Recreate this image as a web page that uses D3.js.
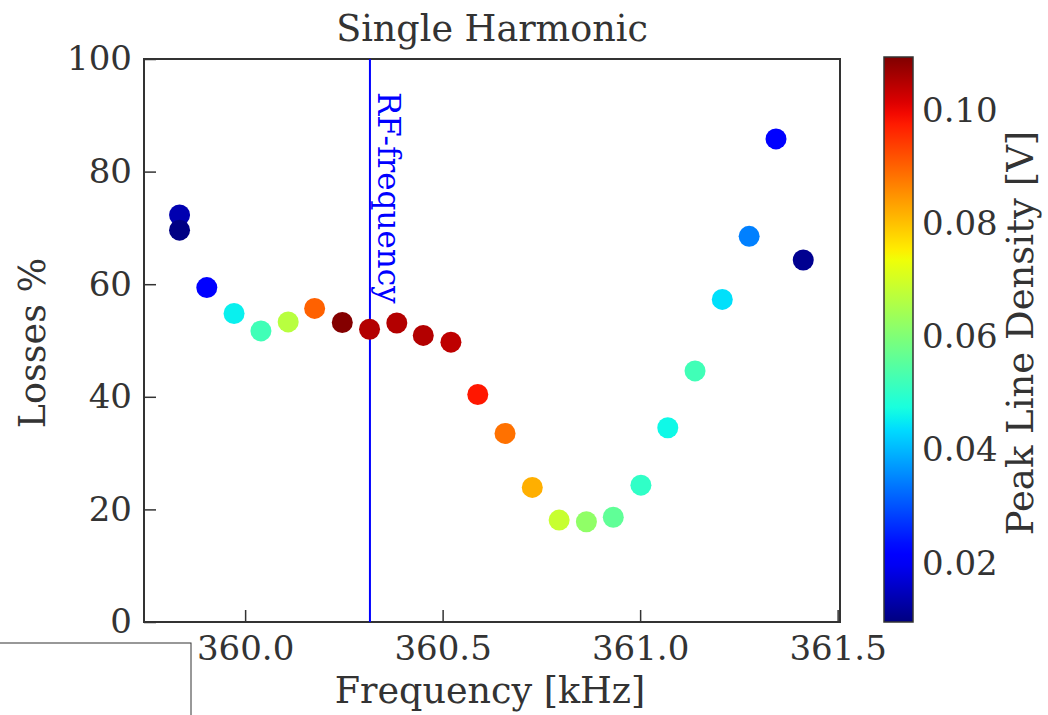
<!DOCTYPE html>
<html>
<head>
<meta charset="utf-8">
<script src="https://cdn.jsdelivr.net/npm/d3@7"></script>
<style>
  body { margin: 0; background: #fff; }
  text { font-family: "DejaVu Serif", serif; fill: #333; }
</style>
</head>
<body>
<svg id="chart" width="1048" height="715"></svg>
<script>
// data
const freq = [359.834, 359.834, 359.903, 359.972, 360.040, 360.109, 360.176, 360.246,
  360.315, 360.384, 360.451, 360.521, 360.589, 360.658, 360.727, 360.795, 360.864,
  360.932, 361.002, 361.070, 361.139, 361.208, 361.276, 361.344, 361.413];
const losses = [72.3, 69.6, 59.4, 54.8, 51.7, 53.3, 55.7, 53.2, 52.0, 53.1, 50.9, 49.7,
  40.4, 33.5, 23.9, 18.1, 17.8, 18.6, 24.3, 34.5, 44.6, 57.3, 68.5, 85.8, 64.3];
const density = [0.0138, 0.0100, 0.0215, 0.0456, 0.0523, 0.0668, 0.0902, 0.1090,
  0.1050, 0.1050, 0.1050, 0.1040, 0.0980, 0.0885, 0.0819, 0.0687, 0.0620, 0.0562,
  0.0503, 0.0464, 0.0523, 0.0440, 0.0346, 0.0214, 0.0110];
const rfFreq = 360.316;
const xTicks = [360.0, 360.5, 361.0, 361.5];
const yTicks = [0, 20, 40, 60, 80, 100];
const cbTicks = [0.02, 0.04, 0.06, 0.08, 0.10];

const points = freq.map((f, i) => ({ f: f, loss: losses[i], d: density[i] }));

const svg = d3.select("#chart");
const plotL = 144, plotR = 840, plotT = 59, plotB = 622;
const fs = 34;

// jet colormap (matplotlib segment data)
const jr = d3.scaleLinear().domain([0, 0.35, 0.66, 0.89, 1]).range([0, 0, 1, 1, 0.5]).clamp(true);
const jg = d3.scaleLinear().domain([0, 0.125, 0.375, 0.64, 0.91, 1]).range([0, 0, 1, 1, 0, 0]).clamp(true);
const jb = d3.scaleLinear().domain([0, 0.11, 0.34, 0.65, 1]).range([0.5, 1, 1, 0, 0]).clamp(true);
function jet(t) {
  return d3.rgb(jr(t) * 255, jg(t) * 255, jb(t) * 255).toString();
}
const cMin = 0.0096, cMax = 0.1094;
const cNorm = d3.scaleLinear().domain([cMin, cMax]).range([0, 1]).clamp(true);

const x = d3.scaleLinear().domain([359.744, 361.506]).range([plotL, plotR]);
const y = d3.scaleLinear().domain([0, 100]).range([plotB, plotT]);

// frame
svg.append("rect")
  .attr("x", plotL).attr("y", plotT)
  .attr("width", plotR - plotL).attr("height", plotB - plotT)
  .attr("fill", "none").attr("stroke", "#333").attr("stroke-width", 2);

// x axis
const xAxis = svg.append("g")
  .attr("transform", `translate(0,${plotB})`)
  .call(d3.axisBottom(x).tickValues(xTicks).tickFormat(d3.format(".1f")).tickSize(-12).tickPadding(14));
xAxis.select(".domain").remove();
xAxis.selectAll("line").attr("stroke", "#333").attr("stroke-width", 1.5);
xAxis.selectAll("text").style("font-size", fs + "px").style("font-family", "DejaVu Serif").attr("fill", "#333");

// y axis
const yAxis = svg.append("g")
  .attr("transform", `translate(${plotL},0)`)
  .call(d3.axisLeft(y).tickValues(yTicks).tickSize(-12).tickPadding(12));
yAxis.select(".domain").remove();
yAxis.selectAll("line").attr("stroke", "#333").attr("stroke-width", 1.5);
yAxis.selectAll("text").style("font-size", fs + "px").style("font-family", "DejaVu Serif").attr("fill", "#333");

// RF line
svg.append("line")
  .attr("x1", x(rfFreq)).attr("x2", x(rfFreq))
  .attr("y1", plotT).attr("y2", plotB)
  .attr("stroke", "#0000ff").attr("stroke-width", 2);
svg.append("text")
  .attr("transform", `translate(${x(rfFreq) + 8},${plotT + 33}) rotate(90)`)
  .style("font-size", "31px")
  .style("fill", "#0000ff")
  .text("RF-frequency");

// scatter
svg.selectAll("circle.pt")
  .data(points)
  .enter()
  .append("circle")
  .attr("class", "pt")
  .attr("cx", d => x(d.f))
  .attr("cy", d => y(d.loss))
  .attr("r", 10.5)
  .attr("fill", d => jet(cNorm(d.d)));

// title and labels
svg.append("text")
  .attr("x", (plotL + plotR) / 2).attr("y", 41)
  .attr("text-anchor", "middle")
  .style("font-size", "36.5px")
  .text("Single Harmonic");

svg.append("text")
  .attr("x", (plotL + plotR) / 2 - 2).attr("y", 703)
  .attr("text-anchor", "middle")
  .style("font-size", "36.5px")
  .text("Frequency [kHz]");

svg.append("text")
  .attr("transform", `translate(45,343) rotate(-90)`)
  .attr("text-anchor", "middle")
  .style("font-size", "36.5px")
  .text("Losses %");

// colorbar
const cbL = 884, cbW = 29, cbTop = 57, cbBot = 622;
const grad = svg.append("defs").append("linearGradient")
  .attr("id", "jetgrad")
  .attr("x1", "0").attr("y1", "1").attr("x2", "0").attr("y2", "0");
grad.selectAll("stop")
  .data(d3.range(0, 1.0001, 0.02))
  .enter()
  .append("stop")
  .attr("offset", d => d)
  .attr("stop-color", d => jet(d));

svg.append("rect")
  .attr("x", cbL).attr("y", cbTop)
  .attr("width", cbW).attr("height", cbBot - cbTop)
  .attr("fill", "url(#jetgrad)")
  .attr("stroke", "#333").attr("stroke-width", 1.5);

const cy = d3.scaleLinear().domain([cMin, cMax]).range([cbBot, cbTop]);
const cbAxis = svg.append("g")
  .attr("transform", `translate(${cbL + cbW},0)`)
  .call(d3.axisRight(cy).tickValues(cbTicks).tickFormat(d3.format(".2f")).tickSize(0).tickPadding(9));
cbAxis.select(".domain").remove();
cbAxis.selectAll("text").style("font-size", fs + "px").style("font-family", "DejaVu Serif").attr("fill", "#333");

svg.append("text")
  .attr("transform", `translate(1033,333) rotate(-90)`)
  .attr("text-anchor", "middle")
  .style("font-size", "37px")
  .text("Peak Line Density [V]");

// stray box in the lower left corner
svg.append("rect")
  .attr("x", -2).attr("y", 643)
  .attr("width", 193).attr("height", 80)
  .attr("fill", "none").attr("stroke", "#333").attr("stroke-width", 1);
</script>
</body>
</html>
